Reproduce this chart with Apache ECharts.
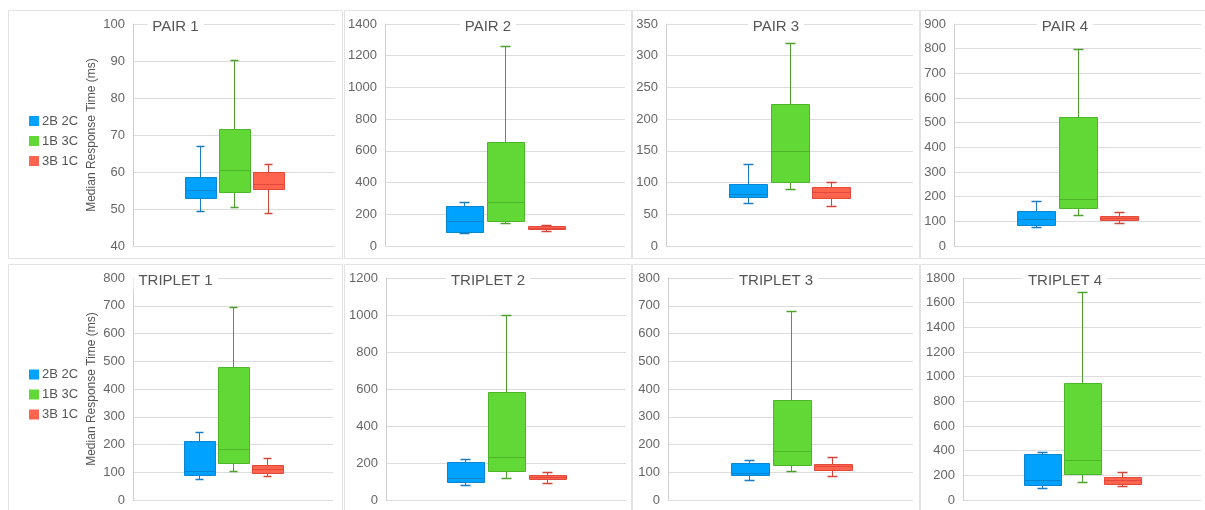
<!DOCTYPE html>
<html><head><meta charset="utf-8">
<script src="https://cdn.jsdelivr.net/npm/echarts@6.0.0/dist/echarts.min.js"></script>
<style>html,body{margin:0;padding:0;background:#fff}#c{width:1205px;height:510px}</style>
</head><body><div id="c"></div>
<script>
// ---- data ----
const groupNames = ['2B 2C', '1B 3C', '3B 1C'];
const panelTitles = ['PAIR 1', 'PAIR 2', 'PAIR 3', 'PAIR 4', 'TRIPLET 1', 'TRIPLET 2', 'TRIPLET 3', 'TRIPLET 4'];
const yAxisName = 'Median Response Time (ms)';
// each group: [min, Q1, median, Q3, max] for 2B 2C, 1B 3C, 3B 1C
const pair1 = [[49.5, 52.9, 55.1, 58.6, 66.9], [50.6, 54.6, 60.5, 71.6, 90.2], [48.9, 55.4, 56.8, 60, 62.2]];
const pair2 = [[82, 88, 160, 252, 278], [147, 160, 278, 656, 1264], [97, 107, 114, 126, 130]];
const pair3 = [[68, 77, 82, 98, 129], [90, 101, 150, 224, 320], [63, 75, 85, 92.5, 100.5]];
const pair4 = [[76, 85, 110, 142, 182], [126, 153, 189, 522, 800], [95, 105, 115, 123, 138]];
const triplet1 = [[77, 91, 106, 214, 246], [106, 135, 185, 481, 697], [88, 98.5, 113, 126, 150]];
const triplet2 = [[79, 97, 119, 205, 219], [120, 156, 232, 583, 998], [92, 113, 126, 137, 149]];
const triplet3 = [[72, 90, 96, 133, 144], [105, 126, 176, 360, 680], [85, 108, 121, 128, 154]];
const triplet4 = [[97, 119, 162, 370, 389], [143, 208, 324, 945, 1684], [111, 127, 165, 184, 224]];
const yMin = [40, 0, 0, 0, 0, 0, 0, 0];
const yMax = [100, 1400, 350, 900, 800, 1200, 800, 1800];
const yStep = [10, 200, 50, 100, 100, 200, 100, 200];

const panels = [pair1, pair2, pair3, pair4, triplet1, triplet2, triplet3, triplet4];

// ---- layout / style ----
const plots = [
  [133, 24, 202, 222], [385, 24, 240, 222], [666, 24, 247, 222], [954, 24, 247, 222],
  [133, 278, 200, 222], [386, 278, 240, 222], [668, 278, 245, 222], [963, 278, 238, 222]
];
const frames = [
  [8, 10, 335, 249], [344, 10, 288, 249], [632, 10, 288, 249], [920, 10, 290, 249],
  [8, 264, 335, 250], [344, 264, 288, 250], [632, 264, 288, 250], [920, 264, 290, 250]
];
const titleY = [27, 27, 27, 27, 281, 281, 281, 281];
const fills = ['#00A2FF', '#61D836', '#FF644E'];
const strokes = ['#0A86D0', '#4CB62A', '#E5483A'];
const whiskers = ['#1B7CC2', '#4E9F2E', '#D54537'];
const FONT = '"Liberation Sans", Arial, Helvetica, sans-serif';

function renderBox(slot) {
  return function (params, api) {
    const cat = api.value(0);
    const band = api.size([1, 0])[0];
    const base = api.coord([cat, api.value(3)]);
    const cx = Math.round(base[0] + (slot - 1) * band * 0.17) + 0.5;
    const half = band * 0.155 / 2;
    const capHalf = Math.round(band * 0.022);
    const y = i => Math.round(api.coord([cat, api.value(i)])[1]) + 0.5;
    const yLo = y(1), yQ1 = y(2), yMed = y(3), yQ3 = y(4), yHi = y(5);
    const bx = Math.round(cx - half) + 0.5;
    const bw = Math.round(half * 2);
    const wc = whiskers[slot], sc = strokes[slot];
    return {
      type: 'group',
      children: [
        { type: 'line', shape: { x1: cx, y1: yHi, x2: cx, y2: yQ3 }, style: { stroke: wc, lineWidth: 1 } },
        { type: 'line', shape: { x1: cx, y1: yQ1, x2: cx, y2: yLo }, style: { stroke: wc, lineWidth: 1 } },
        { type: 'line', shape: { x1: cx - capHalf, y1: yHi, x2: cx + capHalf, y2: yHi }, style: { stroke: wc, lineWidth: 1.5 } },
        { type: 'line', shape: { x1: cx - capHalf, y1: yLo, x2: cx + capHalf, y2: yLo }, style: { stroke: wc, lineWidth: 1.5 } },
        { type: 'rect', shape: { x: bx, y: yQ3, width: bw, height: yQ1 - yQ3 }, style: { fill: fills[slot], stroke: sc, lineWidth: 1 } },
        { type: 'line', shape: { x1: bx, y1: yMed, x2: bx + bw, y2: yMed }, style: { stroke: sc, lineWidth: 1 } }
      ]
    };
  };
}

const grids = [], xAxes = [], yAxes = [], series = [], graphics = [];
panels.forEach((panel, p) => {
  const [l, t, w, h] = plots[p];
  grids.push({ left: l, top: t, width: w, height: h, outerBoundsMode: 'none', containLabel: false });
  xAxes.push({
    type: 'category', gridIndex: p, data: [''], boundaryGap: true,
    axisLine: { show: false }, axisTick: { show: false }, axisLabel: { show: false }, splitLine: { show: false }
  });
  const showName = (p === 0 || p === 4);
  yAxes.push({
    type: 'value', gridIndex: p, min: yMin[p], max: yMax[p], interval: yStep[p],
    name: showName ? yAxisName : '', nameLocation: 'middle', nameGap: 35, nameRotate: 90,
    nameTextStyle: { fontFamily: FONT, fontSize: 12, color: '#555' },
    axisLine: { show: true, lineStyle: { color: '#cfcfcf', width: 1 } },
    axisTick: { show: false },
    axisLabel: { fontFamily: FONT, fontSize: 13, color: '#666', margin: 8, formatter: v => String(v) },
    splitLine: { show: true, lineStyle: { color: '#dcdcdc', width: 1 } }
  });
  panel.forEach((g, s) => {
    series.push({
      type: 'custom', name: groupNames[s], xAxisIndex: p, yAxisIndex: p,
      itemStyle: { color: fills[s] },
      encode: { x: 0, y: [1, 2, 3, 4, 5] },
      data: [[0].concat(g)],
      renderItem: renderBox(s), z: 3
    });
  });
  const [fx, fy, fw, fh] = frames[p];
  graphics.push({
    type: 'rect', z: -1, silent: true,
    shape: { x: fx + 0.5, y: fy + 0.5, width: fw - 1, height: fh - 1 },
    style: { fill: null, stroke: '#e2e2e2', lineWidth: 1 }
  });
  graphics.push({
    type: 'text', z: 100, silent: true,
    style: {
      x: fx + fw / 2, y: titleY[p], text: panelTitles[p], align: 'center', verticalAlign: 'middle',
      fontFamily: FONT, fontSize: 15, fill: '#555', backgroundColor: '#fff', padding: [1, 5]
    }
  });
});

const legendBase = {
  orient: 'vertical', left: 24, itemWidth: 10, itemHeight: 10, itemGap: 7, icon: 'rect',
  data: groupNames, selectedMode: false,
  textStyle: { fontFamily: FONT, fontSize: 13, color: '#555', lineHeight: 13, padding: [0, 0, 0, -2] }
};

const chart = echarts.init(document.getElementById('c'), null, { renderer: 'canvas' });
chart.setOption({
  animation: false,
  backgroundColor: '#fff',
  grid: grids, xAxis: xAxes, yAxis: yAxes, series: series,
  legend: [Object.assign({ top: 109.5 }, legendBase), Object.assign({ top: 363 }, legendBase)],
  graphic: { elements: graphics }
});
</script></body></html>
